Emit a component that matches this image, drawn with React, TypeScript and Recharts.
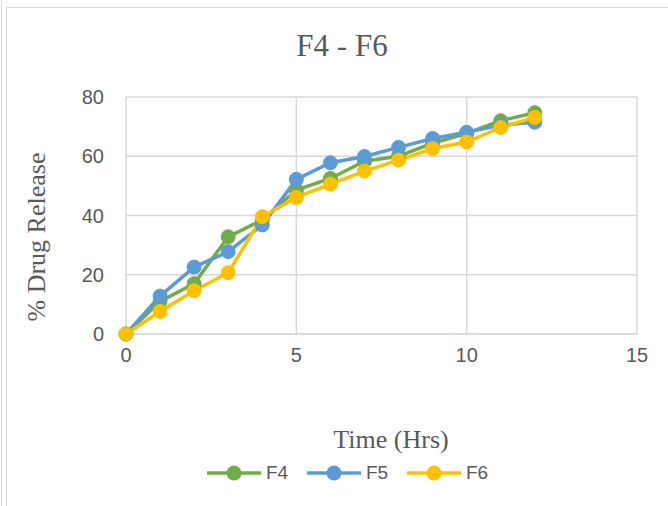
import { LineChart, Line, XAxis, YAxis, CartesianGrid } from 'recharts'

const hours = [0, 1, 2, 3, 4, 5, 6, 7, 8, 9, 10, 11, 12]
const f4 = [0, 11, 17, 32.8, 38.5, 48.6, 52.5, 58.3, 60, 64.4, 67.7, 72, 74.7]
const f5 = [0, 12.8, 22.6, 27.8, 36.8, 52.2, 57.8, 59.9, 63, 66, 68.1, 70.5, 71.5]
const f6 = [0, 7.6, 14.6, 20.7, 39.6, 46.1, 50.6, 55, 58.7, 62.6, 64.8, 69.7, 73.1]
const xTicks = [0, 5, 10, 15]
const yTicks = [0, 20, 40, 60, 80]

const series = [
  { key: 'F4', values: f4, color: '#70AD47' },
  { key: 'F5', values: f5, color: '#5B9BD5' },
  { key: 'F6', values: f6, color: '#FFC000' },
]

const data = hours.map((h, i) => ({ h, F4: f4[i], F5: f5[i], F6: f6[i] }))

const serif = '"Liberation Serif", "DejaVu Serif", serif'
const sans = '"Liberation Sans", Arial, sans-serif'

export default function App() {
  return (
    <div style={{ position: 'absolute', left: 0, top: 0, width: 668, height: 506, background: '#fff', overflow: 'hidden' }}>
      <div style={{ position: 'absolute', left: 1, top: 0, width: 0, height: 506, borderLeft: '1px solid #d9d9d9' }} />
      <div style={{ position: 'absolute', left: 6, top: 7, width: 680, height: 520, border: '1px solid #d9d9d9' }} />
      <div style={{ position: 'absolute', left: 342, top: 46, transform: 'translate(-50%, -50%)', fontFamily: serif, fontSize: 31, color: '#595959', whiteSpace: 'nowrap' }}>
        F4 - F6
      </div>
      <LineChart
        width={668}
        height={506}
        data={data}
        margin={{ top: 97, right: 31, bottom: 142, left: 66 }}
        style={{ position: 'absolute', left: 0, top: 0 }}
      >
        <CartesianGrid stroke="#d9d9d9" strokeWidth={1.5} />
        <XAxis
          dataKey="h"
          type="number"
          domain={[0, 15]}
          ticks={xTicks}
          height={30}
          axisLine={{ stroke: '#d9d9d9', strokeWidth: 1.5 }}
          tickLine={false}
          tickSize={0}
          tickMargin={14}
          tick={{ fontSize: 20, fill: '#595959', fontFamily: sans }}
        />
        <YAxis
          type="number"
          domain={[0, 80]}
          ticks={yTicks}
          width={60}
          axisLine={false}
          tickLine={false}
          tickSize={0}
          tickMargin={22}
          tick={{ fontSize: 20, fill: '#595959', fontFamily: sans }}
        />
        {series.map((s) => (
          <Line
            key={s.key}
            dataKey={s.key}
            stroke={s.color}
            strokeWidth={3.5}
            dot={{ r: 7, fill: s.color, stroke: s.color, strokeWidth: 1 }}
            isAnimationActive={false}
          />
        ))}
      </LineChart>
      <div
        style={{
          position: 'absolute', left: 37, top: 237, transform: 'translate(-50%, -50%) rotate(-90deg)',
          fontFamily: serif, fontSize: 26, color: '#595959', whiteSpace: 'nowrap',
        }}
      >
        % Drug Release
      </div>
      <div style={{ position: 'absolute', left: 391, top: 440, transform: 'translate(-50%, -50%)', fontFamily: serif, fontSize: 26, color: '#595959', whiteSpace: 'nowrap' }}>
        Time (Hrs)
      </div>
      <div style={{ position: 'absolute', left: 207, top: 462, display: 'flex' }}>
        {series.map((s) => (
          <div key={s.key} style={{ display: 'flex', alignItems: 'center', width: 100 }}>
            <svg width={54} height={22}>
              <line x1={0} y1={11} x2={54} y2={11} stroke={s.color} strokeWidth={3.5} />
              <circle cx={27} cy={11} r={7.5} fill={s.color} />
            </svg>
            <span style={{ fontFamily: sans, fontSize: 19, color: '#595959', marginLeft: 5 }}>{s.key}</span>
          </div>
        ))}
      </div>
    </div>
  )
}
